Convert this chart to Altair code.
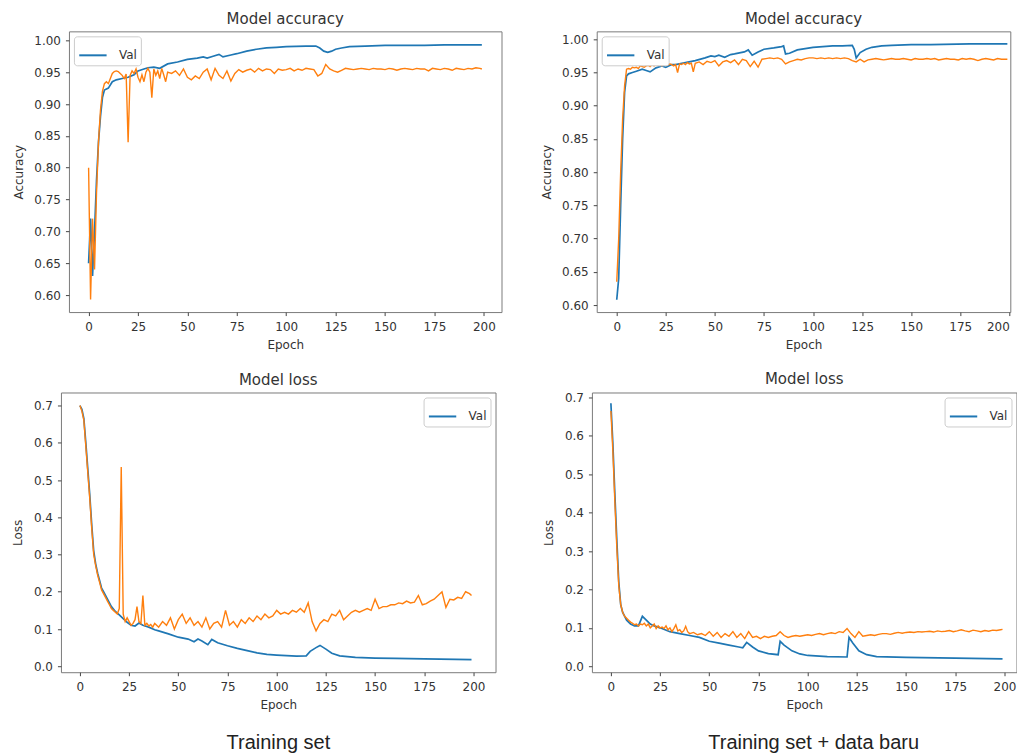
import altair as alt
import pandas as pd

BLUE = "#1f77b4"
ORANGE = "#ff7f0e"

X_TICKS = [0, 25, 50, 75, 100, 125, 150, 175, 200]
ACC_TICKS = [0.60, 0.65, 0.70, 0.75, 0.80, 0.85, 0.90, 0.95, 1.00]
LOSS_TICKS = [0.0, 0.1, 0.2, 0.3, 0.4, 0.5, 0.6, 0.7]
CAPTIONS = ["Training set", "Training set + data baru"]
PANEL_TITLES = ["Model accuracy", "Model loss"]
AXIS_TITLES = ["Epoch", "Accuracy", "Loss"]
SERIES = ["Val", "Train"]

# epochs at which the noisy (orange) curves were read
DENSE_EPOCHS = list(range(0, 40)) + list(range(40, 200, 2)) + [199]

# ---------------- Training set: accuracy ----------------
ACC1_BLUE_EPOCHS = [0, 1, 2, 3, 4, 5, 6, 7, 8, 10, 12, 14, 17, 20, 23, 25, 28, 30, 33, 36,
                    40, 45, 50, 55, 58, 60, 63, 66, 68, 72, 75, 80, 85, 90, 95, 100,
                    110, 115, 117, 119, 121, 123, 125, 128, 132, 140, 150, 160, 170, 180, 190, 199]
ACC1_BLUE = [0.65, 0.72, 0.63, 0.70, 0.78, 0.84, 0.88, 0.91, 0.922, 0.925, 0.935, 0.938, 0.94, 0.942,
             0.946, 0.952, 0.955, 0.957, 0.958, 0.956, 0.963, 0.966, 0.97, 0.972, 0.974, 0.972,
             0.975, 0.978, 0.974, 0.977, 0.979, 0.983, 0.986, 0.988, 0.989, 0.99,
             0.991, 0.991, 0.988, 0.983, 0.981, 0.983, 0.986, 0.988, 0.99,
             0.991, 0.992, 0.992, 0.992, 0.993, 0.993, 0.993]
ACC1_ORANGE = [
    0.80, 0.593, 0.72, 0.64, 0.76, 0.84, 0.89, 0.92, 0.932, 0.935,
    0.932, 0.94, 0.948, 0.951, 0.952, 0.951, 0.948, 0.945, 0.94, 0.947,
    0.84, 0.945, 0.952, 0.948, 0.955, 0.942, 0.935, 0.946, 0.935, 0.95,
    0.956, 0.95, 0.91, 0.955, 0.945, 0.952, 0.94, 0.956, 0.946, 0.935,
    0.95, 0.948, 0.952, 0.945, 0.955, 0.942, 0.938, 0.944, 0.94, 0.95,
    0.955, 0.938, 0.956, 0.945, 0.94, 0.952, 0.936, 0.948, 0.954, 0.95,
    0.953, 0.955, 0.95, 0.956, 0.952, 0.955, 0.954, 0.948, 0.955, 0.953,
    0.954, 0.956, 0.952, 0.955, 0.953, 0.956, 0.955, 0.954, 0.944, 0.948,
    0.962, 0.955, 0.952, 0.95, 0.953, 0.956, 0.955, 0.954, 0.955, 0.956,
    0.955, 0.954, 0.956, 0.955, 0.955, 0.954, 0.956, 0.955, 0.953, 0.955,
    0.956, 0.955, 0.954, 0.956, 0.955, 0.955, 0.952, 0.956, 0.955, 0.954,
    0.956, 0.955, 0.953, 0.956, 0.955, 0.954, 0.956, 0.955, 0.957, 0.956,
    0.955]

# ---------------- Training set + data baru: accuracy ----------------
ACC2_BLUE_EPOCHS = [0, 1, 2, 3, 4, 5, 6, 8, 10, 13, 15, 17, 20, 23, 25, 28, 30, 35, 40, 45, 48,
                    50, 52, 55, 58, 60, 65, 67, 69, 72, 75, 80, 84, 85, 86, 88, 92, 96, 100,
                    110, 115, 120, 121, 122, 124, 127, 130, 135, 140, 150, 160, 180, 199]
ACC2_BLUE = [0.608, 0.64, 0.75, 0.85, 0.92, 0.945, 0.948, 0.95, 0.952, 0.955, 0.953, 0.951,
             0.957, 0.96, 0.958, 0.962, 0.962, 0.965, 0.968, 0.972, 0.975, 0.974, 0.976,
             0.973, 0.977, 0.978, 0.981, 0.984, 0.976, 0.981, 0.985, 0.987, 0.989, 0.99,
             0.978, 0.979, 0.984, 0.986, 0.988, 0.99, 0.99, 0.991, 0.985, 0.972, 0.98,
             0.985, 0.988, 0.99, 0.991, 0.992, 0.992, 0.993, 0.993]
ACC2_ORANGE = [
    0.635, 0.70, 0.80, 0.88, 0.93, 0.955, 0.956, 0.955, 0.958, 0.957,
    0.958, 0.956, 0.96, 0.959, 0.958, 0.96, 0.961, 0.959, 0.962, 0.96,
    0.962, 0.961, 0.963, 0.96, 0.962, 0.963, 0.961, 0.963, 0.962, 0.96,
    0.962, 0.95, 0.963, 0.962, 0.964, 0.962, 0.965, 0.963, 0.964, 0.951,
    0.964, 0.966, 0.962, 0.967, 0.965, 0.968, 0.96, 0.966, 0.968, 0.965,
    0.969, 0.962, 0.97, 0.968, 0.959, 0.967, 0.958, 0.97, 0.971, 0.972,
    0.971, 0.972, 0.97, 0.963, 0.966, 0.968, 0.97, 0.969, 0.971, 0.972,
    0.972, 0.971, 0.972, 0.971, 0.972, 0.971, 0.972, 0.971, 0.972, 0.971,
    0.968, 0.966, 0.97, 0.966, 0.969, 0.97, 0.971, 0.97, 0.969, 0.97,
    0.971, 0.97, 0.97, 0.971, 0.97, 0.969, 0.971, 0.97, 0.97, 0.971,
    0.97, 0.971, 0.969, 0.97, 0.971, 0.97, 0.97, 0.969, 0.971, 0.97,
    0.971, 0.97, 0.968, 0.97, 0.971, 0.97, 0.969, 0.971, 0.97, 0.97,
    0.97]

# ---------------- Training set: loss ----------------
LOSS1_BLUE_EPOCHS = [0, 1, 2, 3, 4, 5, 6, 7, 8, 9, 10, 11, 12, 14, 16, 18, 20, 22, 24, 26, 28,
                     30, 32, 35, 38, 40, 45, 50, 55, 58, 60, 62, 65, 67, 70, 75, 80, 85, 90,
                     95, 100, 110, 115, 117, 120, 122, 125, 128, 132, 140, 150, 160, 175, 199]
LOSS1_BLUE = [0.70, 0.69, 0.665, 0.60, 0.53, 0.46, 0.38, 0.31, 0.275, 0.25, 0.23, 0.21, 0.20,
              0.18, 0.16, 0.147, 0.138, 0.128, 0.118, 0.11, 0.108, 0.116, 0.11,
              0.105, 0.098, 0.095, 0.087, 0.078, 0.073, 0.066, 0.073, 0.068,
              0.058, 0.072, 0.063, 0.055, 0.048, 0.042, 0.036, 0.032, 0.03,
              0.027, 0.028, 0.04, 0.05, 0.056, 0.046, 0.035, 0.028,
              0.024, 0.022, 0.021, 0.02, 0.018]
LOSS1_ORANGE = [
    0.70, 0.685, 0.66, 0.59, 0.52, 0.45, 0.37, 0.30, 0.27, 0.245,
    0.225, 0.205, 0.195, 0.185, 0.175, 0.165, 0.155, 0.15, 0.145, 0.14,
    0.155, 0.535, 0.14, 0.12, 0.13, 0.12, 0.11, 0.115, 0.125, 0.16,
    0.12, 0.115, 0.19, 0.11, 0.115, 0.108, 0.112, 0.105, 0.115, 0.11,
    0.105, 0.12, 0.11, 0.13, 0.1, 0.125, 0.14, 0.115, 0.13, 0.11,
    0.12, 0.105, 0.13, 0.1, 0.115, 0.12, 0.105, 0.15, 0.11, 0.12,
    0.105, 0.125, 0.115, 0.13, 0.12, 0.135, 0.125, 0.14, 0.13, 0.135,
    0.15, 0.14, 0.145, 0.14, 0.15, 0.145, 0.155, 0.145, 0.17, 0.12,
    0.095, 0.115, 0.125, 0.12, 0.14, 0.135, 0.15, 0.125, 0.135, 0.145,
    0.15, 0.145, 0.15, 0.155, 0.15, 0.18, 0.155, 0.16, 0.16, 0.165,
    0.165, 0.17, 0.168, 0.175, 0.17, 0.172, 0.19, 0.165, 0.168, 0.175,
    0.18, 0.19, 0.2, 0.158, 0.18, 0.178, 0.185, 0.182, 0.2, 0.195,
    0.19]

# ---------------- Training set + data baru: loss ----------------
LOSS2_BLUE_EPOCHS = [0, 1, 2, 3, 4, 5, 6, 8, 10, 12, 14, 16, 18, 20, 22, 25, 30, 35, 40, 45,
                     50, 55, 60, 65, 67, 69, 72, 75, 80, 85, 86, 88, 92, 96, 100, 110, 120,
                     121, 123, 126, 130, 135, 150, 175, 199]
LOSS2_BLUE = [0.685, 0.58, 0.45, 0.33, 0.22, 0.16, 0.14, 0.12, 0.11, 0.105, 0.105, 0.13,
              0.12, 0.11, 0.105, 0.1, 0.09, 0.085, 0.08, 0.075, 0.065, 0.06, 0.055, 0.05,
              0.048, 0.062, 0.05, 0.04, 0.033, 0.03, 0.065, 0.055, 0.04, 0.032, 0.028,
              0.025, 0.024, 0.075, 0.06, 0.04, 0.03, 0.025, 0.023, 0.021, 0.019]
LOSS2_ORANGE = [
    0.665, 0.56, 0.43, 0.31, 0.21, 0.16, 0.14, 0.13, 0.125, 0.12,
    0.115, 0.112, 0.108, 0.11, 0.105, 0.11, 0.108, 0.112, 0.105, 0.11,
    0.1, 0.105, 0.11, 0.098, 0.105, 0.1, 0.102, 0.098, 0.105, 0.095,
    0.1, 0.09, 0.098, 0.108, 0.092, 0.095, 0.088, 0.092, 0.104, 0.09,
    0.085, 0.088, 0.082, 0.085, 0.08, 0.09, 0.078, 0.088, 0.075, 0.085,
    0.078, 0.09, 0.075, 0.085, 0.072, 0.09, 0.075, 0.078, 0.072, 0.078,
    0.075, 0.078, 0.08, 0.09, 0.08, 0.075, 0.078, 0.08, 0.078, 0.08,
    0.082, 0.08, 0.083, 0.085, 0.082, 0.085, 0.087, 0.085, 0.09, 0.088,
    0.098, 0.085, 0.075, 0.09, 0.078, 0.08, 0.082, 0.08, 0.083, 0.085,
    0.085, 0.083, 0.086, 0.088, 0.086, 0.088, 0.089, 0.088, 0.09, 0.089,
    0.09, 0.091, 0.089, 0.092, 0.09, 0.091, 0.093, 0.09, 0.092, 0.095,
    0.092, 0.09, 0.094, 0.092, 0.09, 0.093, 0.091, 0.094, 0.093, 0.095,
    0.096]


def frame(blue_ep, blue_val, orange_ep, orange_val):
    rows = [{"epoch": e, "value": v, "series": SERIES[0]} for e, v in zip(blue_ep, blue_val)]
    rows += [{"epoch": e, "value": v, "series": SERIES[1]} for e, v in zip(orange_ep, orange_val)]
    return pd.DataFrame(rows)


def panel(df, title, ytitle, ydom, yticks, yfmt, xdom, w, h, legend_orient, xflush=False):
    color = alt.Color(
        "series:N",
        scale=alt.Scale(domain=SERIES, range=[BLUE, ORANGE]),
        legend=alt.Legend(
            orient=legend_orient, values=[SERIES[0]], title=None,
            symbolType="stroke", symbolSize=750, symbolStrokeWidth=2,
            labelFontSize=12, labelColor="#333", labelOffset=11,
            fillColor="white", strokeColor="#cccccc", cornerRadius=3,
            padding=4, offset=5,
        ),
    )
    x = alt.X("epoch:Q", scale=alt.Scale(domain=xdom, nice=False, zero=False),
              axis=alt.Axis(values=X_TICKS, title=AXIS_TITLES[0], labelFlush=xflush))
    y = alt.Y("value:Q", scale=alt.Scale(domain=ydom, nice=False, zero=False),
              axis=alt.Axis(values=yticks, format=yfmt, title=ytitle, labelFlush=False))
    base = alt.Chart(df).encode(x=x, y=y, color=color)
    blue = base.transform_filter(alt.datum.series == SERIES[0]).mark_line(strokeWidth=1.7, clip=True)
    orange = base.transform_filter(alt.datum.series == SERIES[1]).mark_line(strokeWidth=1.4, clip=True)
    return alt.layer(blue, orange).properties(title=title, width=w, height=h)


def indep(c):
    return c.resolve_scale(color="independent").resolve_legend(color="independent")


def spacer():
    # invisible 1px cell so each row is aligned on its outer (axis-title) edge
    return alt.Chart(pd.DataFrame({"s": [""]})).mark_text().encode(text="s:N").properties(
        width=1, height=1, view=alt.ViewBackground(stroke="transparent", fill="transparent"))


tl = panel(frame(ACC1_BLUE_EPOCHS, ACC1_BLUE, DENSE_EPOCHS, ACC1_ORANGE),
           PANEL_TITLES[0], AXIS_TITLES[1], [0.5733, 1.0141], ACC_TICKS, ".2f",
           [-9.95, 208.95], 433, 281, "top-left")
tr = panel(frame(ACC2_BLUE_EPOCHS, ACC2_BLUE, DENSE_EPOCHS, ACC2_ORANGE),
           PANEL_TITLES[0], AXIS_TITLES[1], [0.5894, 1.012], ACC_TICKS, ".2f",
           [-10.2, 200.5], 414, 281, "top-left", xflush=12)
bl = panel(frame(LOSS1_BLUE_EPOCHS, LOSS1_BLUE, DENSE_EPOCHS, LOSS1_ORANGE),
           PANEL_TITLES[1], AXIS_TITLES[2], [-0.016, 0.735], LOSS_TICKS, ".1f",
           [-9.64, 211.2], 435, 280, "top-right")
br = panel(frame(LOSS2_BLUE_EPOCHS, LOSS2_BLUE, DENSE_EPOCHS, LOSS2_ORANGE),
           PANEL_TITLES[1], AXIS_TITLES[2], [-0.0156, 0.713], LOSS_TICKS, ".1f",
           [-9.64, 206.1], 425, 280, "top-right")


def caption(text, dx):
    return alt.TitleParams(text=text, orient="bottom", anchor="middle", fontSize=20,
                           font="Liberation Sans", fontWeight="normal", color="#222",
                           offset=22, dx=dx)


top_row = indep(alt.hconcat(spacer(), indep(alt.hconcat(tl, tr, spacing=36.3)), spacing=0))
bottom_row = indep(alt.hconcat(
    spacer(),
    indep(alt.hconcat(
        indep(alt.vconcat(bl, title=caption(CAPTIONS[0], 24.7))),
        indep(alt.vconcat(br, title=caption(CAPTIONS[1], 34))),
        spacing=45.5,
    )),
    spacing=0,
))

chart = indep(alt.vconcat(
    top_row, bottom_row, spacing=20.5,
    padding={"left": 0, "top": 3, "right": 0, "bottom": 0},
)).configure(
    font="DejaVu Sans", background="white"
).configure_view(
    stroke="#7a7a7a", strokeWidth=1
).configure_axis(
    domain=False, grid=False, tickColor="#444", tickSize=3.5, tickWidth=1,
    labelFontSize=12, titleFontSize=12, labelColor="#333", titleColor="#333",
    titleFontWeight="normal", labelFont="DejaVu Sans", titleFont="DejaVu Sans",
).configure_axisX(
    labelPadding=6, titlePadding=6.5
).configure_axisY(
    labelPadding=5, titlePadding=8.5
).configure_title(
    fontSize=15, fontWeight="normal", color="#333", offset=4, font="DejaVu Sans"
)

chart.save("out.html", embed_options={"renderer": "svg", "actions": False})
